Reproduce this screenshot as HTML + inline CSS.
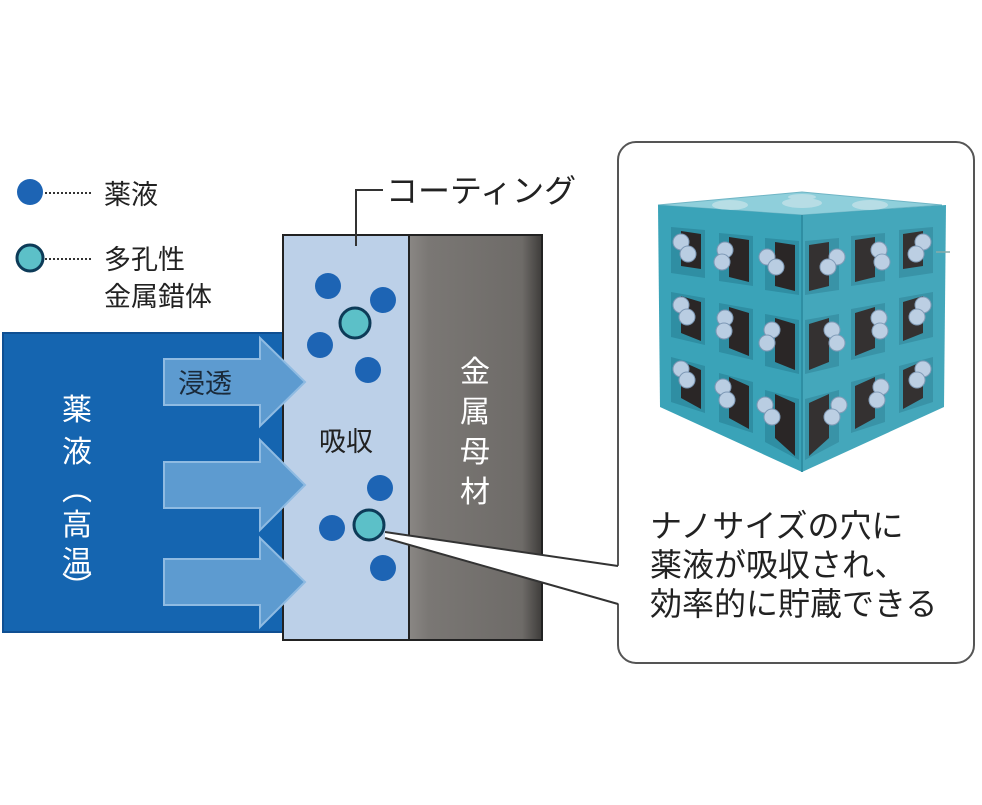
<!DOCTYPE html>
<html><head><meta charset="utf-8"><style>
html,body{margin:0;padding:0;background:#fff}
svg{display:block}
text{font-family:"Liberation Sans","Noto Sans CJK JP",sans-serif}
</style></head><body>
<svg width="982" height="805" viewBox="0 0 982 805" xmlns="http://www.w3.org/2000/svg">
<defs>
<linearGradient id="metal" x1="0" x2="1">
<stop offset="0" stop-color="#8a8784"/><stop offset="0.15" stop-color="#7a7774"/><stop offset="0.85" stop-color="#6e6b68"/><stop offset="1" stop-color="#3e3c3a"/>
</linearGradient>
<g id="face">
<polygon points="658,205 802,215 802,472 660,407" fill="#3aa3b8"/>
<g fill="#2f8ea3">
<polygon points="671,227 705,230 705,278 671,273"/>
<polygon points="719,233 753,236 753,286 719,281"/>
<polygon points="765,238 799,241 799,295 765,290"/>
<polygon points="671,292 705,298 705,345 671,337"/>
<polygon points="719,303 753,309 753,360 719,352"/>
<polygon points="765,314 799,320 799,374 765,366"/>
<polygon points="671,357 705,366 705,413 671,402"/>
<polygon points="719,373 753,382 753,433 719,422"/>
<polygon points="765,390 799,399 799,460 765,442"/>
</g>
<g fill="#2a2626">
<polygon points="681,231 701,234 701,269 681,266"/>
<polygon points="729,237 749,240 749,282 729,277"/>
<polygon points="775,242 795,245 795,291 775,286"/>
<polygon points="681,296 701,302 701,341 681,333"/>
<polygon points="729,307 749,313 749,356 729,348"/>
<polygon points="775,318 795,324 795,370 775,362"/>
<polygon points="681,361 701,370 701,409 681,398"/>
<polygon points="729,377 749,386 749,429 729,418"/>
<polygon points="775,394 795,403 795,456 775,438"/>
</g>
<g fill="#b9cde2" stroke="#7d98b5" stroke-width="1">
<circle cx="681" cy="242" r="8"/><circle cx="688" cy="254" r="8"/>
<circle cx="725" cy="250" r="8"/><circle cx="722" cy="262" r="8"/>
<circle cx="767" cy="257" r="8"/><circle cx="776" cy="267" r="8"/>
<circle cx="681" cy="305" r="8"/><circle cx="687" cy="317" r="8"/>
<circle cx="725" cy="318" r="8"/><circle cx="724" cy="331" r="8"/>
<circle cx="772" cy="330" r="8"/><circle cx="767" cy="343" r="8"/>
<circle cx="681" cy="369" r="8"/><circle cx="687" cy="380" r="8"/>
<circle cx="723" cy="387" r="8"/><circle cx="727" cy="400" r="8"/>
<circle cx="765" cy="405" r="8"/><circle cx="772" cy="417" r="8"/>
</g>
</g>
</defs>

<!-- legend -->
<circle cx="30" cy="192" r="13" fill="#1d64b4"/>
<line x1="45" y1="193" x2="92" y2="193" stroke="#333" stroke-width="2" stroke-dasharray="2,2"/>
<text x="104" y="204" font-size="27" fill="#222">薬液</text>
<circle cx="30" cy="258" r="13" fill="#5cc0c8" stroke="#0d3b58" stroke-width="3"/>
<line x1="45" y1="259" x2="92" y2="259" stroke="#333" stroke-width="2" stroke-dasharray="2,2"/>
<text x="104" y="269" font-size="27" fill="#222">多孔性</text>
<text x="104" y="306" font-size="27" fill="#222">金属錯体</text>

<!-- blue liquid -->
<rect x="3" y="333" width="290" height="299" fill="#1565b0" stroke="#0f4f92" stroke-width="2"/>
<g font-size="30" fill="#fff" text-anchor="middle">
<text x="77" y="420">薬</text><text x="77" y="462">液</text>
<text x="77" y="500">︵</text><text x="77" y="535">高</text><text x="77" y="572">温</text><text x="77" y="598">︶</text>
</g>

<!-- coating -->
<rect x="283" y="235" width="126" height="405" fill="#bcd0e8" stroke="#222" stroke-width="2"/>
<rect x="409" y="235" width="133" height="405" fill="url(#metal)" stroke="#222" stroke-width="2"/>
<g font-size="30" fill="#fff" text-anchor="middle">
<text x="475" y="382">金</text><text x="475" y="422">属</text><text x="475" y="462">母</text><text x="475" y="502">材</text>
</g>

<!-- arrows -->
<g fill="#5d9bd0" stroke="#8fbbe2" stroke-width="2">
<polygon points="164,359 260,359 260,338 305,382 260,426 260,405 164,405"/>
<polygon points="164,462 260,462 260,440 305,485 260,530 260,508 164,508"/>
<polygon points="164,559 260,559 260,538 305,582 260,627 260,605 164,605"/>
</g>
<text x="178" y="393" font-size="27" fill="#1a2a3a">浸透</text>
<text x="346" y="451" font-size="27" fill="#222" text-anchor="middle">吸収</text>

<!-- coating label -->
<polyline points="383,190 356,190 356,246" fill="none" stroke="#333" stroke-width="2"/>
<text x="386" y="202" font-size="32" fill="#222">コーティング</text>

<!-- dots -->
<g fill="#1d64b4">
<circle cx="328" cy="286" r="13"/><circle cx="383" cy="300" r="13"/>
<circle cx="320" cy="345" r="13"/><circle cx="368" cy="370" r="13"/>
<circle cx="380" cy="488" r="13"/><circle cx="332" cy="528" r="13"/>
<circle cx="383" cy="568" r="13"/>
</g>

<!-- callout box -->
<rect x="618" y="142" width="356" height="521" rx="18" fill="#fff" stroke="#555" stroke-width="2"/>
<polygon points="385,532 620,566 620,604 385,538" fill="#fff"/>
<polyline points="385,532 618,566" fill="none" stroke="#333" stroke-width="2"/>
<polyline points="385,538 618,604" fill="none" stroke="#333" stroke-width="2"/>

<circle cx="355" cy="323" r="15" fill="#5cc0c8" stroke="#0d3b58" stroke-width="3"/>
<circle cx="369" cy="525" r="15" fill="#5cc0c8" stroke="#0d3b58" stroke-width="3"/>

<g font-size="32" fill="#222">
<text x="650" y="537">ナノサイズの穴に</text>
<text x="650" y="576">薬液が吸収され、</text>
<text x="650" y="615">効率的に貯蔵できる</text>
</g>

<!-- cube -->
<polygon points="658,205 802,192 942,205 802,215" fill="#8fcfdb" stroke="#6fb5c5"/>
<g fill="#c8e4ea" opacity="0.7">
<ellipse cx="730" cy="205" rx="18" ry="5"/><ellipse cx="802" cy="203" rx="20" ry="5"/><ellipse cx="870" cy="205" rx="18" ry="5"/><ellipse cx="802" cy="197" rx="14" ry="3"/>
</g>
<use href="#face"/>
<g transform="translate(1604,0) scale(-1,1)" opacity="0.95"><use href="#face"/></g>
<line x1="802" y1="215" x2="802" y2="472" stroke="#2f8ea3" stroke-width="2"/>
<line x1="936" y1="252" x2="950" y2="252" stroke="#8aa" stroke-width="1.5"/>
</svg>
</body></html>
